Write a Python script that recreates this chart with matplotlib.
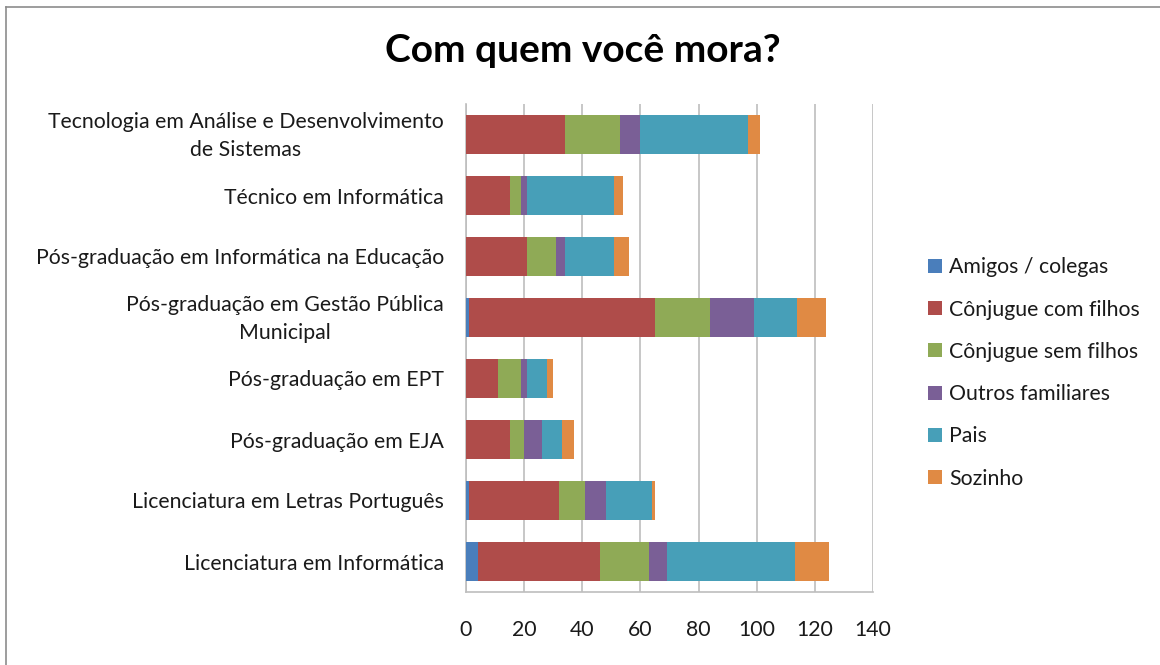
import numpy as np
import matplotlib.pyplot as plt
import matplotlib.transforms as mtransforms
from matplotlib.patches import Patch
from matplotlib.lines import Line2D

plt.rcParams['font.family'] = ['Lato', 'DejaVu Sans']

# ========== dados ==========
cursos = [
    'Tecnologia em Análise e Desenvolvimento\nde Sistemas',
    'Técnico em Informática',
    'Pós-graduação em Informática na Educação',
    'Pós-graduação em Gestão Pública\nMunicipal',
    'Pós-graduação em EPT',
    'Pós-graduação em EJA',
    'Licenciatura em Letras Português',
    'Licenciatura em Informática',
]
series = ['Amigos / colegas', 'Cônjugue com filhos', 'Cônjugue sem filhos',
          'Outros familiares', 'Pais', 'Sozinho']

amigos = [0, 0, 0, 1, 0, 0, 1, 4]
conj_filhos = [34, 15, 21, 64, 11, 15, 31, 42]
conj_sem = [19, 4, 10, 19, 8, 5, 9, 17]
outros = [7, 2, 3, 15, 2, 6, 7, 6]
pais = [37, 30, 17, 15, 7, 7, 16, 44]
sozinho = [4, 3, 5, 10, 2, 4, 1, 12]

cores = ['#4A7EBB', '#AF4C4A', '#8FAA56', '#7A5F96', '#479FB8', '#E08A44']
ticks_x = [0, 20, 40, 60, 80, 100, 120, 140]

# ========== figura ==========
fig = plt.figure(figsize=(11.6, 6.65), dpi=100)
ax = fig.add_axes([466 / 1160, 73 / 665, 407 / 1160, 488 / 665])

y = np.arange(len(cursos))
esquerda = np.zeros(len(cursos))
for vals, cor, nome in zip([amigos, conj_filhos, conj_sem, outros, pais, sozinho], cores, series):
    ax.barh(y, vals, left=esquerda, height=0.64, color=cor, label=nome, zorder=3)
    esquerda += np.array(vals)

ax.set_ylim(len(cursos) - 0.5, -0.5)
ax.set_xlim(0, 140)
ax.set_xticks(ticks_x)
ax.set_yticks(y)
ax.set_yticklabels(cursos, fontsize=15.3, color='#1A1A1A', ha='right',
                   multialignment='center', linespacing=1.5)
ax.tick_params(axis='x', length=0, pad=20, labelsize=15.3, labelcolor='#1A1A1A')
ax.tick_params(axis='y', length=0, pad=16)
ax.grid(axis='x', color='#BEBEBE', linewidth=1.2, zorder=0)
for s in ['top', 'right']:
    ax.spines[s].set_visible(False)
for s in ['left', 'bottom']:
    ax.spines[s].set_color('#BEBEBE')
    ax.spines[s].set_linewidth(1.2)

# rótulos de duas linhas ficam um pouco mais acima
subir = mtransforms.ScaledTranslation(0, 4.5 / 100, fig.dpi_scale_trans)
for lbl in ax.get_yticklabels():
    if '\n' in lbl.get_text():
        lbl.set_transform(lbl.get_transform() + subir)

fig.text(583 / 1160, 1 - 50 / 665, 'Com quem você mora?', ha='center', va='center',
         fontsize=28, fontweight='bold', color='black')

handles = [Patch(facecolor=c, edgecolor='none') for c in cores]
fig.legend(handles, series, loc='center left', bbox_to_anchor=(909 / 1160, 1 - 373 / 665),
           frameon=False, fontsize=15.3, handlelength=0.65, handleheight=0.65,
           handletextpad=0.35, labelspacing=1.05, labelcolor='#1A1A1A')

# borda da área do gráfico
fig.add_artist(Line2D([6 / 1160, 6 / 1160], [0, 1 - 7 / 665], color='#8C8C8C', linewidth=1.2))
fig.add_artist(Line2D([6 / 1160, 1], [1 - 7 / 665, 1 - 7 / 665], color='#8C8C8C', linewidth=1.2))

fig.savefig('out.png', dpi=100, facecolor='white')
